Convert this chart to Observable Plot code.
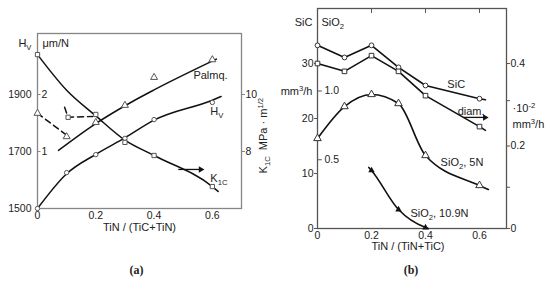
<!DOCTYPE html>
<html><head><meta charset="utf-8">
<script src="https://cdn.jsdelivr.net/npm/d3@7"></script>
<script src="https://cdn.jsdelivr.net/npm/@observablehq/plot@0.6"></script>
<style>
body{margin:0;background:#fff;}
#wrap{display:flex;width:550px;height:283px;overflow:hidden;}
#wrap svg{flex:none;}
text{white-space:pre;}
</style></head><body><div id="wrap"></div>
<script>
// ---------- Panel (a) data ----------
const aXTicks = [0, 0.2, 0.4, 0.6];
const hvTicks = [1500, 1700, 1900];
const umTicks = [1, 2];
const k1cTicks = [8, 10];
// Vickers hardness (HV), circles
const hvX = [0, 0.1, 0.2, 0.3, 0.4, 0.6];
const hvVal = [1500, 1626, 1689, 1746, 1812, 1872];
const hvCurveX = [0, 0.1, 0.2, 0.3, 0.4, 0.6, 0.63];
const hvCurveVal = [1500, 1622, 1690, 1748, 1810, 1880, 1893];
// K1C (MPa m^1/2), squares
const k1cX = [0, 0.2, 0.3, 0.4, 0.6];
const k1cVal = [11.4, 9.3, 8.32, 7.86, 6.77];
const k1cCurveX = [0, 0.1, 0.2, 0.3, 0.4, 0.6, 0.62];
const k1cCurveVal = [11.4, 10.15, 9.25, 8.4, 7.86, 6.77, 6.6];
const k1cDashX = [0.093, 0.105, 0.19];
const k1cDashVal = [9.55, 9.2, 9.23];
const k1cDashMarkX = [0.105];
const k1cDashMarkVal = [9.2];
// Palmqvist (um/N), triangles
const palX = [0, 0.1, 0.2, 0.3, 0.4, 0.6];
const palVal = [1.67, 1.26, 1.51, 1.81, 2.30, 2.61];
const palCurveX = [0.072, 0.2, 0.32, 0.4, 0.614];
const palCurveVal = [1.02, 1.49, 1.86, 2.08, 2.62];
const palDashX = [0, 0.107];
const palDashVal = [1.67, 1.26];

// ---------- Panel (b) data ----------
const bXTicks = [0, 0.2, 0.4, 0.6];
const bTopTicks = [0.2, 0.4, 0.6];
const sicTicks = [0, 10, 20, 30];
const sio2Ticks = [0.5, 1.0];
const rightTicks = [0, 0.1, 0.2, 0.31, 0.4];
const rightLabels = [0, 0.2, 0.4];
const bX = [0, 0.1, 0.2, 0.3, 0.4, 0.6];
// SiC abrasive wear (mm3/h), circles
const sicVal = [33.3, 31.1, 33.3, 29.3, 26.0, 23.6];
const sicLineX = [0, 0.1, 0.2, 0.3, 0.4, 0.6, 0.622];
const sicLineVal = [33.3, 31.1, 33.3, 29.3, 26.0, 23.6, 23.4];
// diamond (10^-2 mm3/h), squares
const diamVal = [0.400, 0.381, 0.419, 0.381, 0.322, 0.247];
const diamLineX = [0, 0.1, 0.2, 0.3, 0.4, 0.6, 0.622];
const diamLineVal = [0.400, 0.381, 0.419, 0.381, 0.322, 0.247, 0.238];
// SiO2 5N (mm3/h), open triangles
const s5Val = [0.655, 0.887, 0.975, 0.909, 0.531, 0.313];
const s5LineX = [0, 0.1, 0.2, 0.3, 0.4, 0.6, 0.633];
const s5LineVal = [0.655, 0.887, 0.975, 0.909, 0.531, 0.313, 0.284];
// SiO2 10.9N, filled triangles
const s109X = [0.2, 0.3, 0.4];
const s109Val = [0.422, 0.138, 0.007];
const s109LineX = [0.19, 0.2, 0.3, 0.4, 0.41];
const s109LineVal = [0.444, 0.422, 0.138, 0.007, 0];

// ---------- helpers ----------
const font = "'Liberation Sans', Arial, sans-serif";
const toK = k => 1500 + (k - 6) * 100;   // K1C -> HV scale
const fromK = h => (h - 1500) / 100 + 6;
const toP = p => 1500 + p * 200;         // um/N -> HV scale
const SIO2 = 25, DIAM = 75;               // inner / right axis -> SiC scale
const zip = (xs, ys, f = d => d) => xs.map((x, i) => ({x, y: f(ys[i])}));
const ink = "#111";

function richify(svg) {
  svg.querySelectorAll("text").forEach(el => {
    const s = el.textContent;
    if (!/[_^]\{/.test(s)) return;
    el.textContent = "";
    const re = /([_^])\{([^}]*)\}/g;
    let last = 0, cur = 0, m;
    const add = (t, off, small) => {
      const ts = document.createElementNS("http://www.w3.org/2000/svg", "tspan");
      ts.textContent = t;
      const dy = off - cur;
      if (dy) ts.setAttribute("dy", dy);
      if (small) ts.setAttribute("font-size", "0.7em");
      cur = off;
      el.appendChild(ts);
    };
    while ((m = re.exec(s))) {
      if (m.index > last) add(s.slice(last, m.index), 0, false);
      add(m[2], m[1] === "^" ? -4 : 3, true);
      last = re.lastIndex;
    }
    if (last < s.length) add(s.slice(last), 0, false);
  });
}

// ---------- Panel (a) ----------
const annA = [
  {x: 0.535, y: 1967, t: "Palmq."},
  {x: 0.593, y: 1840, t: "H_{V}"},
  {x: 0.593, y: 1605, t: "K_{1C}"}
];
const arrowA = [{x1: 0.483, x2: 0.56, y: 1637}];

const plotA = Plot.plot({
  width: 275, height: 283,
  marginLeft: 37, marginRight: 34, marginTop: 33, marginBottom: 75,
  x: {domain: [0, 0.7]},
  y: {domain: [1500, 2114]},
  style: {fontFamily: font, fontSize: "10.5px", background: "white", color: "#222"},
  marks: [
    Plot.frame({stroke: "#858585", strokeWidth: 1.3}),
    Plot.axisX({ticks: aXTicks, tickSize: 0, tickPadding: 3, label: null, tickFormat: d => String(d)}),
    Plot.axisY({anchor: "left", ticks: hvTicks, tickSize: 0, tickPadding: 6, label: null, tickFormat: d => String(d)}),
    Plot.axisY({anchor: "right", ticks: k1cTicks.map(toK), tickFormat: d => String(Math.round(fromK(d))), tickSize: 3, tickPadding: 1, label: null, stroke: "#858585"}),
    Plot.ruleY(umTicks, {y: toP, x1: 0, x2: 0.012, stroke: "#858585"}),
    Plot.text(umTicks, {y: toP, text: d => String(d), frameAnchor: "left", dx: 4, textAnchor: "start", fontSize: 10.5}),
    // curves
    Plot.line(zip(hvCurveX, hvCurveVal), {x: "x", y: "y", curve: "monotone-x", stroke: ink, strokeWidth: 1.5}),
    Plot.line(zip(k1cCurveX, k1cCurveVal, toK), {x: "x", y: "y", curve: "monotone-x", stroke: ink, strokeWidth: 1.5}),
    Plot.line(zip(palCurveX, palCurveVal, toP), {x: "x", y: "y", curve: "monotone-x", stroke: ink, strokeWidth: 1.5}),
    Plot.line(zip(palDashX, palDashVal, toP), {x: "x", y: "y", stroke: ink, strokeWidth: 1.5, strokeDasharray: "6,4"}),
    Plot.line(zip(k1cDashX, k1cDashVal, toK), {x: "x", y: "y", stroke: ink, strokeWidth: 1.5, strokeDasharray: "6,4"}),
    // markers
    Plot.dot(zip(hvX, hvVal), {x: "x", y: "y", symbol: "circle", r: 2.2, fill: "white", stroke: "#555", strokeWidth: 1}),
    Plot.dot(zip(k1cX, k1cVal, toK), {x: "x", y: "y", symbol: "square", r: 2.4, fill: "white", stroke: "#555", strokeWidth: 1}),
    Plot.dot(zip(k1cDashMarkX, k1cDashMarkVal, toK), {x: "x", y: "y", symbol: "square", r: 2.4, fill: "white", stroke: "#555", strokeWidth: 1}),
    Plot.dot(zip(palX, palVal, toP), {x: "x", y: "y", symbol: "triangle", r: 2.6, fill: "white", stroke: "#555", strokeWidth: 1}),
    // annotations
    Plot.link(arrowA, {x1: "x1", x2: "x2", y1: "y", y2: "y", stroke: ink, strokeWidth: 1.3}),
    Plot.dot(arrowA, {x: "x2", y: "y", symbol: "triangle", rotate: 90, r: 2.4, fill: ink}),
    Plot.text(annA, {x: "x", y: "y", text: "t", textAnchor: "start", fontSize: 11}),
    Plot.text([{y: 2079}], {y: "y", text: () => "H_{V}", frameAnchor: "left", dx: -6, textAnchor: "end", fontSize: 11}),
    Plot.text([{y: 2079}], {y: "y", text: () => "μm/N", frameAnchor: "left", dx: 5, textAnchor: "start", fontSize: 11}),
    Plot.text([{y: 1623}], {y: "y", text: () => "K_{1C}  MPa · m^{1/2}", frameAnchor: "right", dx: 22, rotate: -90, textAnchor: "start", fontSize: 11}),
    Plot.text(["TiN / (TiC+TiN)"], {frameAnchor: "bottom", dy: 22.5, fontSize: 11}),
    Plot.text(["(a)"], {frameAnchor: "bottom", dy: 65, dx: -3, fontSize: 12, fontWeight: "bold", fontFamily: "'Liberation Serif', 'Times New Roman', serif"})
  ]
});

// ---------- Panel (b) ----------
const annB = [
  {x: 0.481, y: 26.2, t: "SiC"},
  {x: 0.519, y: 21.3, t: "diam."},
  {x: 0.456, y: 12.0, t: "SiO_{2}, 5N"},
  {x: 0.344, y: 2.7, t: "SiO_{2}, 10.9N"}
];
const arrowB = [{x1: 0.541, x2: 0.62, y: 20.2}];

const plotB = Plot.plot({
  width: 275, height: 283,
  marginLeft: 42, marginRight: 44, marginTop: 8, marginBottom: 55,
  x: {domain: [0, 0.7]},
  y: {domain: [0, 40]},
  style: {fontFamily: font, fontSize: "10.5px", background: "white", color: "#222"},
  marks: [
    Plot.frame({stroke: "#555", strokeWidth: 1.3}),
    Plot.axisX({ticks: bXTicks, tickSize: 0, tickPadding: 3, label: null, tickFormat: d => String(d)}),
    Plot.ruleX(bTopTicks, {x: d => d, y1: 40, y2: 39.1, stroke: "#555"}),
    Plot.axisY({anchor: "left", ticks: sicTicks, tickSize: 3, tickPadding: 1, label: null, stroke: "#555"}),
    Plot.axisY({anchor: "right", ticks: rightTicks.map(d => d * DIAM), tickSize: 3, tickPadding: 1, label: null, stroke: "#555",
      tickFormat: d => { const r = d / DIAM; return rightLabels.some(v => Math.abs(v - r) < 1e-6) ? String(+r.toFixed(1)) : ""; }}),
    Plot.ruleY(sio2Ticks, {y: d => d * SIO2, x1: 0, x2: 0.018, stroke: "#555"}),
    Plot.text(sio2Ticks, {y: d => d * SIO2, text: d => d.toFixed(1), frameAnchor: "left", dx: 7, textAnchor: "start", fontSize: 10.5}),
    // curves
    Plot.line(zip(sicLineX, sicLineVal), {x: "x", y: "y", stroke: ink, strokeWidth: 1.6}),
    Plot.line(zip(diamLineX, diamLineVal, d => d * DIAM), {x: "x", y: "y", stroke: ink, strokeWidth: 1.6}),
    Plot.line(zip(s5LineX, s5LineVal, d => d * SIO2), {x: "x", y: "y", curve: "monotone-x", stroke: ink, strokeWidth: 1.6}),
    Plot.line(zip(s109LineX, s109LineVal, d => d * SIO2), {x: "x", y: "y", curve: "monotone-x", stroke: ink, strokeWidth: 1.6}),
    // markers
    Plot.dot(zip(bX, sicVal), {x: "x", y: "y", symbol: "circle", r: 2.4, fill: "white", stroke: "#333", strokeWidth: 1}),
    Plot.dot(zip(bX, diamVal, d => d * DIAM), {x: "x", y: "y", symbol: "square", r: 2.6, fill: "white", stroke: "#333", strokeWidth: 1}),
    Plot.dot(zip(bX, s5Val, d => d * SIO2), {x: "x", y: "y", symbol: "triangle", r: 2.8, fill: "white", stroke: "#333", strokeWidth: 1}),
    Plot.dot(zip(s109X, s109Val, d => d * SIO2), {x: "x", y: "y", symbol: "triangle", r: 2.4, fill: ink}),
    // annotations
    Plot.link(arrowB, {x1: "x1", x2: "x2", y1: "y", y2: "y", stroke: ink, strokeWidth: 1.3}),
    Plot.dot(arrowB, {x: "x2", y: "y", symbol: "triangle", rotate: 90, r: 2.4, fill: ink}),
    Plot.text(annB, {x: "x", y: "y", text: "t", textAnchor: "start", fontSize: 11}),
    Plot.text([{y: 37.5}], {y: "y", text: () => "SiC", frameAnchor: "left", dx: -5, textAnchor: "end", fontSize: 11}),
    Plot.text([{y: 37.5}], {y: "y", text: () => "SiO_{2}", frameAnchor: "left", dx: 4, textAnchor: "start", fontSize: 11}),
    Plot.text([{y: 24.9}], {y: "y", text: () => "mm^{3}/h", frameAnchor: "left", dx: -5, textAnchor: "end", fontSize: 11}),
    Plot.text([{y: 21.8}], {y: "y", text: () => "·10^{-2}", frameAnchor: "right", dx: 6, textAnchor: "start", fontSize: 11}),
    Plot.text([{y: 19.0}], {y: "y", text: () => "mm^{3}/h", frameAnchor: "right", dx: 6, textAnchor: "start", fontSize: 11}),
    Plot.text(["TiN / (TiN+TiC)"], {frameAnchor: "bottom", dy: 21.5, dx: -4, fontSize: 11}),
    Plot.text(["(b)"], {frameAnchor: "bottom", dy: 45, dx: -1, fontSize: 12, fontWeight: "bold", fontFamily: "'Liberation Serif', 'Times New Roman', serif"})
  ]
});

const wrap = document.getElementById("wrap");
wrap.appendChild(plotA);
wrap.appendChild(plotB);
richify(plotA);
richify(plotB);
</script>
</body></html>
